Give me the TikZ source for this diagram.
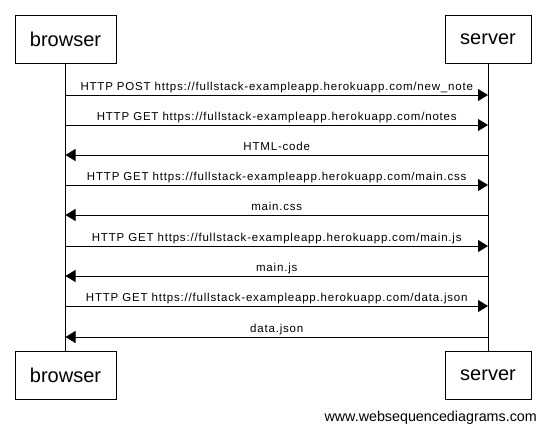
\documentclass[tikz,border=0pt]{standalone}
\usepackage{fontspec}
\setmainfont{Liberation Sans}
\usetikzlibrary{arrows.meta}
\usetikzlibrary{positioning}

\begin{document}
\begin{tikzpicture}[x=1pt,y=-1pt,line cap=butt,line join=miter,
  actor/.style={draw=black,line width=1pt,fill=white,minimum height=48pt,inner sep=0pt,font=\fontsize{20}{24}\selectfont},
  life/.style={line width=1pt,color=black},
  msg/.style={line width=1pt,-{Triangle[length=10pt,width=12pt]}},
  lbl/.style={midway,anchor=base,yshift=4.3pt,inner sep=0pt,font=\fontsize{11.5}{14}\selectfont\addfontfeature{LetterSpace=7}}]
\useasboundingbox (0,0) rectangle (546,434);
% \draw[step=10,gray,very thin] (0,0) grid (546,434);

% lifelines first, boxes on top
\draw [life] (65.5,63) -- (65.5,351);
\draw [life] (488,63) -- (488,351);

\draw (65.5,39) node[actor,minimum width=101pt](browserTop){browser};
\draw (488,39) node[actor,minimum width=86pt](serverTop){server};
\draw (65.5,375) node[actor,minimum width=101pt](browserBot){browser};
\draw (488,375) node[actor,minimum width=86pt](serverBot){server};

% points on the lifelines
\foreach \n/\y in {1/95,2/125,3/155,4/185,5/215,6/246,7/276,8/306,9/337}{
  \coordinate (b\n) at (65.5,\y);
  \coordinate (s\n) at (488,\y);
}

\draw [msg] (b1) -- (s1) node[lbl]{HTTP POST https://fullstack-exampleapp.herokuapp.com/new\_note};
\draw [msg] (b2) -- (s2) node[lbl]{HTTP GET https://fullstack-exampleapp.herokuapp.com/notes};
\draw [msg] (s3) -- (b3) node[lbl]{HTML-code};
\draw [msg] (b4) -- (s4) node[lbl]{HTTP GET https://fullstack-exampleapp.herokuapp.com/main.css};
\draw [msg] (s5) -- (b5) node[lbl]{main.css};
\draw [msg] (b6) -- (s6) node[lbl]{HTTP GET https://fullstack-exampleapp.herokuapp.com/main.js};
\draw [msg] (s7) -- (b7) node[lbl]{main.js};
\draw [msg] (b8) -- (s8) node[lbl]{HTTP GET https://fullstack-exampleapp.herokuapp.com/data.json};
\draw [msg] (s9) -- (b9) node[lbl]{data.json};

\draw (537,418) node[anchor=east,inner sep=0pt,font=\fontsize{14.3}{16}\selectfont](wsd){www.websequencediagrams.com};
\end{tikzpicture}
\end{document}
